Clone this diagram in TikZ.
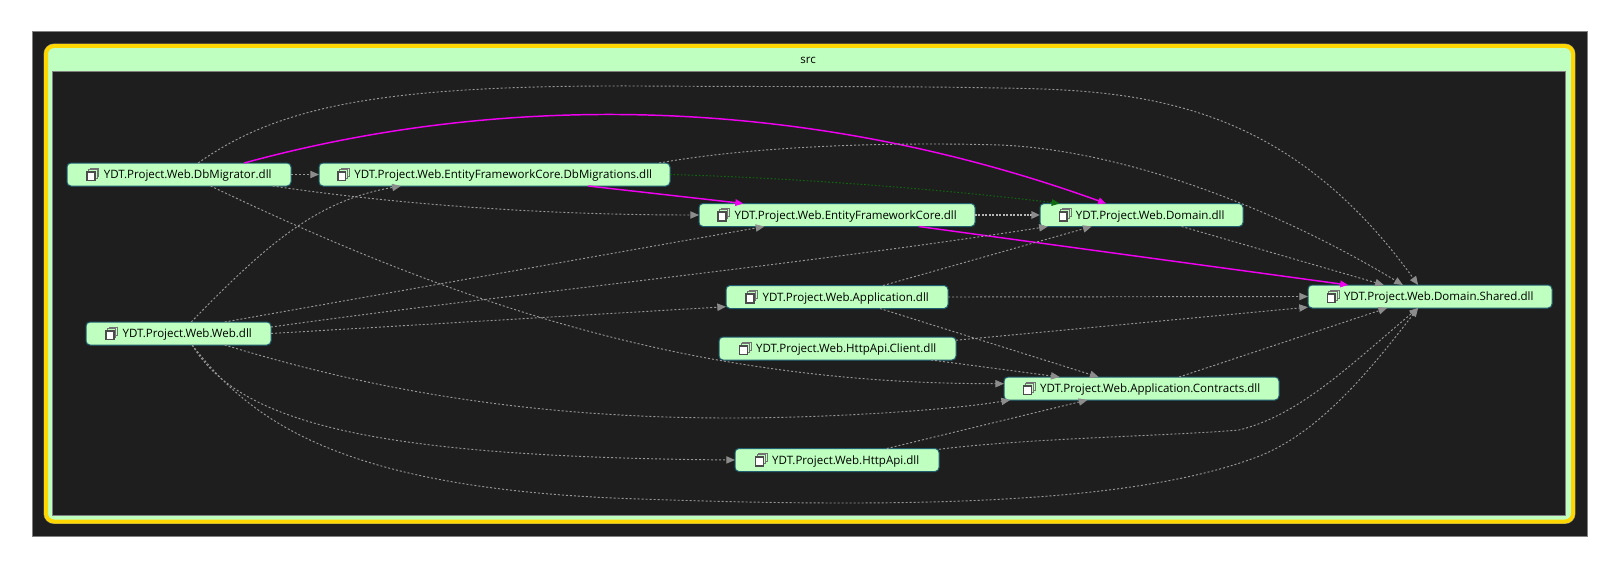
\documentclass[tikz,border=0pt]{standalone}
\usepackage{fontspec}
\setmainfont{Open Sans}
\usetikzlibrary{arrows.meta}

\definecolor{panelbg}{HTML}{1E1E1E}
\definecolor{groupgold}{HTML}{FFD700}
\definecolor{nodemint}{HTML}{BFFFBF}
\definecolor{nodeedge}{HTML}{1F5F70}
\definecolor{linkgray}{HTML}{989898}
\definecolor{tipgray}{HTML}{8C8C8C}
\definecolor{linkgreen}{HTML}{0F6A0F}
\definecolor{linkpink}{HTML}{F000F0}

% Stacked squares in front of every assembly name
\newcommand{\dllicon}{\tikz[baseline=-3.2pt, sharp corners]{
		\draw[line width=.6pt, draw=black!55, fill=nodemint] (2.8pt,-1.4pt) rectangle (9pt,4.9pt);
		\draw[line width=.6pt, draw=black!55, fill=nodemint] (1.4pt,-2.8pt) rectangle (7.6pt,3.8pt);
		\draw[line width=1.2pt, draw=black!70, fill=white] (.3pt,-4.6pt) rectangle (6.2pt,2pt);
	}}

\tikzset{
	dll/.style={draw=nodeedge, line width=.75pt, fill=nodemint, rounded corners=3pt, minimum height=17.25pt, inner sep=0pt, outer sep=0pt, text=black, font=\fontsize{8.65}{10}\selectfont},
	link/.style={draw=linkgray, line width=.7pt, dash pattern=on 1.5pt off 1.5pt, -{Triangle[length=6.5pt,width=5.5pt,color=tipgray,fill=tipgray]}},
	strong/.style={draw=linkpink, line width=1.1pt, -{Triangle[length=6pt,width=5pt,color=linkpink,fill=linkpink]}},
}

\begin{document}
\begin{tikzpicture}[x=.75pt, y=-.75pt]
	\useasboundingbox (0,0) rectangle (1617,567);
	% Dark canvas and the src group
	\draw[fill=panelbg, draw=gray, line width=.75pt] (32,32) rectangle (1587,536);
	\draw[draw=black!50, line width=3.7pt, rounded corners=6pt] (46,46) rectangle (1573,521.5);
	\draw[fill=nodemint, draw=groupgold, line width=3pt, rounded corners=6pt] (46,46) rectangle (1573,521.5);
	\draw[fill=panelbg, draw=gray, line width=.6pt] (52,71) rectangle (1565.5,515);
	\node[font=\fontsize{8.65}{10}\selectfont, text=black] (src) at (808,60.5) {src};

	% Assemblies
	\node[dll, minimum width=168pt] (migrator) at (179,174.5) {\dllicon\hspace{3.5pt}YDT.Project.Web.DbMigrator.dll};
	\node[dll, minimum width=263.25pt] (efmig) at (494.5,174.5) {\dllicon\hspace{3.5pt}YDT.Project.Web.EntityFrameworkCore.DbMigrations.dll};
	\node[dll, minimum width=207pt] (efcore) at (837,215) {\dllicon\hspace{3.5pt}YDT.Project.Web.EntityFrameworkCore.dll};
	\node[dll, minimum width=152.25pt] (domain) at (1141.5,215) {\dllicon\hspace{3.5pt}YDT.Project.Web.Domain.dll};
	\node[dll, minimum width=166.5pt] (app) at (837,297) {\dllicon\hspace{3.5pt}YDT.Project.Web.Application.dll};
	\node[dll, minimum width=183pt] (shared) at (1430,296.5) {\dllicon\hspace{3.5pt}YDT.Project.Web.Domain.Shared.dll};
	\node[dll, minimum width=138.75pt] (web) at (178.5,333.5) {\dllicon\hspace{3.5pt}YDT.Project.Web.Web.dll};
	\node[dll, minimum width=177.75pt] (client) at (837.5,348.5) {\dllicon\hspace{3.5pt}YDT.Project.Web.HttpApi.Client.dll};
	\node[dll, minimum width=206.25pt] (contracts) at (1141.5,388.5) {\dllicon\hspace{3.5pt}YDT.Project.Web.Application.Contracts.dll};
	\node[dll, minimum width=153pt] (httpapi) at (837,460) {\dllicon\hspace{3.5pt}YDT.Project.Web.HttpApi.dll};

	% From the migrator
	\draw[link] (migrator.31) .. controls (280,105) and (385,85) .. (640,86) .. controls (800,87) and (900,86) .. (1000,88) .. controls (1140,90) and (1285,100) .. (shared.136);
	\draw[strong] (migrator.10.7) .. controls (500,93) and (800,93) .. (domain.162.7);
	\draw[link] (migrator.east) -- (efmig.west);
	\draw[link] (migrator.-7.2) .. controls (400,205) and (550,215) .. (efcore.west);
	\draw[link] (migrator.-20.4) .. controls (470,310) and (700,384) .. (contracts.178.5);

	% From the migrations
	\draw[strong] (efmig.-7.1) -- (efcore.173.6);
	\draw[link, draw=linkgreen, dash pattern=on 1.2pt off 1.5pt, -{Triangle[length=6pt,width=5pt,color=linkgreen,fill=linkgreen]}] (efmig.east) .. controls (800,178) and (950,190) .. (domain.172.5);
	\draw[link] (efmig.4.9) .. controls (760,145) and (900,142) .. (1000,145) .. controls (1120,150) and (1270,205) .. (shared.157.7);

	% From the entity framework core and the domain
	\draw[link, line width=1.8pt, draw=linkgray!70!white, dash pattern=on 1.5pt off 1.1pt] (efcore.east) -- (domain.west);
	\draw[strong] (efcore.-8) -- (shared.172.8);
	\draw[link] (domain.-16.1) -- (shared.166.3);

	% From the web host
	\draw[link] (web.42.6) .. controls (270,240) and (320,200) .. (efmig.187.75);
	\draw[link] (web.14.8) -- (efcore.189.5);
	\draw[link] (web.4) .. controls (500,295) and (800,265) .. (domain.187.5);
	\draw[link] (web.east) -- (app.185.8);
	\draw[link] (web.-14.2) .. controls (340,380) and (500,418) .. (730,418) .. controls (830,418) and (950,410) .. (contracts.185.5);
	\draw[link] (web.-40) .. controls (240,425) and (380,457) .. (httpapi.west);
	\draw[link] (web.-40) .. controls (250,420) and (340,490) .. (640,499) .. controls (900,508) and (1130,505) .. (1257,457) .. controls (1320,433) and (1370,370) .. (shared.224);

	% From the application and the api projects
	\draw[link] (app.14.3) -- (domain.193.9);
	\draw[link] (app.east) -- (shared.west);
	\draw[link] (app.-15.4) -- (contracts.165.2);
	\draw[link] (client.4.6) -- (shared.185.6);
	\draw[link] (client.-7.5) -- (contracts.172.8);
	\draw[link] (contracts.17.3) -- (shared.195.7);
	\draw[link] (httpapi.13.7) -- (contracts.192.8);
	\draw[link] (httpapi.6) .. controls (1030,438) and (1170,436) .. (1239,430) .. controls (1300,415) and (1350,365) .. (shared.224);
\end{tikzpicture}
\end{document}
